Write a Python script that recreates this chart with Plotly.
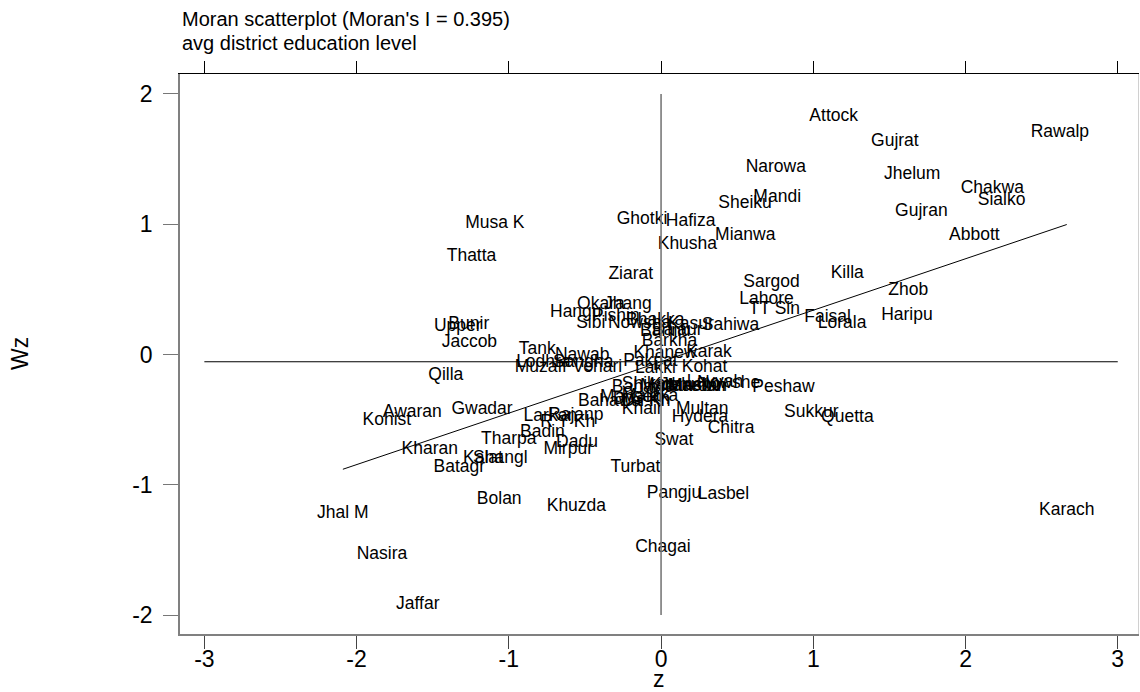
import plotly.graph_objects as go

# ---------------- data ----------------
names = [
    "Attock", "Gujrat", "Rawalp", "Narowa", "Jhelum", "Chakwa", "Sialko", "Mandi",
    "Gujran", "Abbott", "Killa", "Sargod", "Zhob", "Lahore", "TT Sin", "Faisal",
    "Lorala", "Haripu", "Peshaw", "Sukkur", "Quetta", "Karach", "Sheiku", "Ghotki",
    "Hafiza", "Khusha", "Mianwa", "Ziarat", "Sahiwa", "Musa K", "Thatta", "Bunir",
    "Upper", "Jaccob", "Qilla", "Tank", "Hangu", "Okara", "Jhang", "Pishin",
    "Sibi", "Nowsha", "Bhakka", "Kasur", "Bannu", "Bajaur", "Barkha", "Nawab",
    "Khanew", "Karak", "Lodhra", "Muzaff", "Sangha", "Vehari", "Pakpat", "Lakki",
    "Kohat", "Layyah", "Nowshe", "Multan", "Hydera", "Chitra", "Swat", "Awaran",
    "Kohist", "Gwadar", "Larkan", "Rajanp", "R Y Kh", "Badin", "Tharpa", "Dadu",
    "Mirpur", "Kharan", "Kalat", "Shangl", "Batagr", "Turbat", "Pangju", "Lasbel",
    "Bolan", "Khuzda", "Jhal M", "Nasira", "Jaffar", "Chagai", "Bahawa", "Shikar",
    "Bahawa", "Mardan", "Jamsho", "Matiar", "Kohlu", "Malaka", "Manseh", "D G Kh",
    "D I Kh", "Khair", "Mastun",
]

z = [
    1.134, 1.536, 2.620, 0.754, 1.650, 2.176, 2.237, 0.763,
    1.710, 2.058, 1.223, 0.726, 1.624, 0.693, 0.744, 1.094,
    1.189, 1.615, 0.804, 0.987, 1.224, 2.665, 0.552, -0.125,
    0.194, 0.173, 0.553, -0.199, 0.456, -1.092, -1.245, -1.263,
    -1.335, -1.259, -1.414, -0.813, -0.560, -0.395, -0.218, -0.297,
    -0.462, -0.141, -0.038, 0.196, 0.028, 0.107, 0.055, -0.518,
    0.026, 0.315, -0.773, -0.790, -0.511, -0.418, -0.070, -0.037,
    0.286, 0.354, 0.444, 0.271, 0.256, 0.460, 0.084, -1.634,
    -1.801, -1.176, -0.727, -0.560, -0.613, -0.779, -1.000, -0.552,
    -0.610, -1.519, -1.170, -1.056, -1.325, -0.168, 0.085, 0.410,
    -1.063, -0.556, -2.090, -1.833, -1.598, 0.012, -0.338, -0.095,
    -0.116, 0.239, 0.195, 0.022, 0.075, -0.073, -0.196, -0.129,
    -0.097, -0.124, 0.234,
]

wz = [
    1.825, 1.633, 1.702, 1.434, 1.383, 1.276, 1.183, 1.206,
    1.099, 0.915, 0.623, 0.554, 0.487, 0.424, 0.347, 0.282,
    0.239, 0.298, -0.252, -0.444, -0.482, -1.201, 1.160, 1.032,
    1.019, 0.846, 0.912, 0.610, 0.219, 1.007, 0.751, 0.232,
    0.211, 0.094, -0.163, 0.035, 0.321, 0.380, 0.380, 0.288,
    0.239, 0.239, 0.259, 0.226, 0.175, 0.180, 0.098, -0.008,
    0.009, 0.012, -0.063, -0.101, -0.065, -0.101, -0.055, -0.106,
    -0.098, -0.216, -0.223, -0.421, -0.482, -0.572, -0.658, -0.444,
    -0.508, -0.426, -0.474, -0.468, -0.526, -0.599, -0.654, -0.678,
    -0.733, -0.731, -0.797, -0.802, -0.866, -0.866, -1.065, -1.078,
    -1.111, -1.168, -1.219, -1.539, -1.922, -1.480, -0.362, -0.230,
    -0.253, -0.249, -0.242, -0.246, -0.238, -0.324, -0.334, -0.349,
    -0.365, -0.422, -0.246,
]

x_ticks = [-3, -2, -1, 0, 1, 2, 3]
x_tick_labels = ["-3", "-2", "-1", "0", "1", "2", "3"]
y_ticks = [-2, -1, 0, 1, 2]
y_tick_labels = ["-2", "-1", "0", "1", "2"]

moran_i = 0.395
z_mean = 0.0
wz_mean = -0.055

title_line1 = "Moran scatterplot (Moran's I = 0.395)"
title_line2 = "avg district education level"
x_title = "z"
y_title = "Wz"

# ---------------- figure ----------------
FONT = "Arial, Liberation Sans, Helvetica, sans-serif"
X_RANGE = [-3.160, 3.133]
Y_RANGE = [-2.145, 2.153]

fig = go.Figure()

# horizontal reference line at mean of Wz (drawn on the top x axis, same scale)
fig.add_trace(go.Scatter(
    x=[x_ticks[0], x_ticks[-1]], y=[wz_mean, wz_mean], mode="lines",
    xaxis="x2", yaxis="y",
    line=dict(color="black", width=1.1), hoverinfo="skip", showlegend=False))

# vertical reference line at mean of z (drawn on the right y axis, same scale)
fig.add_trace(go.Scatter(
    x=[z_mean, z_mean], y=[y_ticks[0], y_ticks[-1]], mode="lines",
    xaxis="x", yaxis="y2",
    line=dict(color="#7a7a7a", width=1.6), hoverinfo="skip", showlegend=False))

# regression (Moran) line over the range of z
zmin, zmax = min(z), max(z)
fig.add_trace(go.Scatter(
    x=[zmin, zmax],
    y=[wz_mean + moran_i * (zmin - z_mean), wz_mean + moran_i * (zmax - z_mean)],
    mode="lines", line=dict(color="black", width=1), hoverinfo="skip",
    showlegend=False))

# district labels
fig.add_trace(go.Scatter(
    x=z, y=wz, mode="text", text=names, textposition="middle center",
    textfont=dict(family=FONT, size=17.5, color="black"),
    hoverinfo="skip", showlegend=False, cliponaxis=False))

axis_common = dict(showgrid=False, zeroline=False)

fig.update_layout(
    width=1140, height=692,
    margin=dict(l=180, r=2, t=74, b=58),
    paper_bgcolor="white", plot_bgcolor="white",
    showlegend=False, hovermode=False,
    xaxis=dict(
        range=X_RANGE, tickmode="array", tickvals=x_ticks, ticktext=x_tick_labels,
        ticks="outside", ticklen=13, tickwidth=1.3, tickcolor="#444444",
        showline=True, linecolor="#808080", linewidth=1.6,
        ticklabelstandoff=-9,
        tickfont=dict(family=FONT, size=23, color="black"), **axis_common),
    xaxis2=dict(
        range=X_RANGE, overlaying="x", side="top", anchor="y",
        tickmode="array", tickvals=x_ticks, ticks="outside", ticklen=12,
        tickwidth=1.2, tickcolor="black", showticklabels=False,
        showline=True, linecolor="black", linewidth=1.2, **axis_common),
    yaxis=dict(
        range=Y_RANGE, tickmode="array", tickvals=y_ticks, ticktext=y_tick_labels,
        ticks="outside", ticklen=15, tickwidth=1.3, tickcolor="#777777",
        showline=True, linecolor="#808080", linewidth=1.6,
        ticklabelstandoff=6,
        tickfont=dict(family=FONT, size=23, color="black"), **axis_common),
    yaxis2=dict(
        range=Y_RANGE, overlaying="y", side="right", anchor="x",
        ticks="", showticklabels=False, showline=True,
        linecolor="#d0d0d0", linewidth=1, **axis_common),
    annotations=[
        dict(text=title_line1, xref="paper", yref="paper", x=0, y=1.0990,
             xanchor="left", yanchor="middle", showarrow=False,
             font=dict(family=FONT, size=20, color="black")),
        dict(text=title_line2, xref="paper", yref="paper", x=0, y=1.0560,
             xanchor="left", yanchor="middle", showarrow=False,
             font=dict(family=FONT, size=20, color="black")),
        dict(text=x_title, xref="paper", yref="paper", x=0.5, y=-0.0800,
             xanchor="center", yanchor="middle", showarrow=False,
             font=dict(family=FONT, size=23, color="black")),
        dict(text=y_title, xref="paper", yref="paper", x=-0.167, y=0.5,
             xanchor="center", yanchor="middle", showarrow=False, textangle=-90,
             font=dict(family=FONT, size=23, color="black")),
    ],
)

fig.write_html(
    "out.html",
    config={"displayModeBar": False},
    post_script="document.body.style.margin='0';document.body.style.overflow='hidden';",
)
